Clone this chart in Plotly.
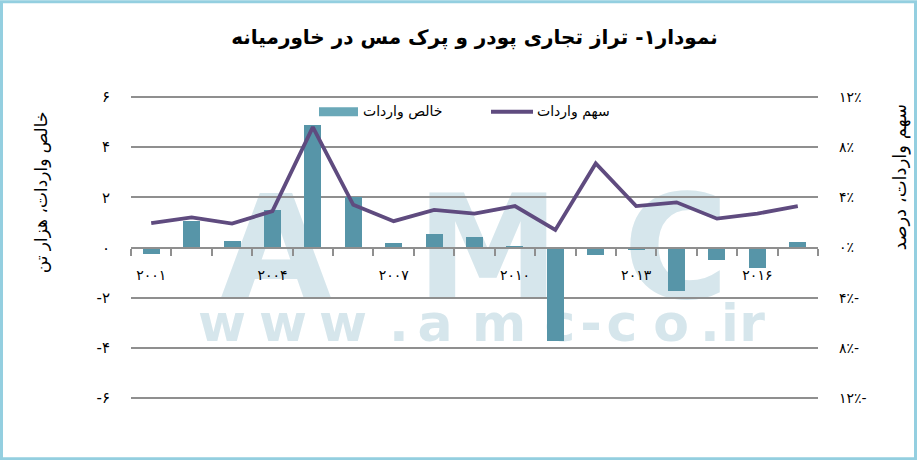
import plotly.graph_objects as go

# ---------------- data ----------------
years = [2001, 2002, 2003, 2004, 2005, 2006, 2007, 2008, 2009,
         2010, 2011, 2012, 2013, 2014, 2015, 2016, 2017]
net_imports = [-0.25, 1.05, 0.27, 1.5, 4.87, 2.0, 0.17, 0.55, 0.43,
               0.03, -3.72, -0.3, -0.1, -1.73, -0.5, -0.8, 0.2]      # thousand tonnes
import_share = [1.95, 2.4, 1.9, 2.9, 9.6, 3.4, 2.1, 3.0, 2.7,
                3.3, 1.4, 6.7, 3.3, 3.6, 2.3, 2.7, 3.3]             # percent

x_tick_vals = [2001, 2004, 2007, 2010, 2013, 2016]
x_tick_text = ["۲۰۰۱", "۲۰۰۴", "۲۰۰۷", "۲۰۱۰", "۲۰۱۳", "۲۰۱۶"]
left_tick_vals = [6, 4, 2, 0, -2, -4, -6]
left_tick_text = ["۶", "۴", "۲", "۰", "-۲", "-۴", "-۶"]
right_tick_vals = [12, 8, 4, 0, -4, -8, -12]
right_tick_text = ["۱۲٪", "۸٪", "۴٪", "۰٪", "۴٪-", "۸٪-", "۱۲٪-"]

title_text = "نمودار۱- تراز تجاری پودر و پرک مس در خاورمیانه"
bar_name = "خالص واردات"
line_name = "سهم واردات"
left_title = "خالص واردات، هزار تن"
right_title = "سهم واردات، درصد"

# ---------------- styling ----------------
W, H = 917, 460
G_TOP, G_BOT = 96.7, 397.7          # pixel rows of the +6 / -6 gridlines
PPU = (G_BOT - G_TOP) / 12.0        # pixels per left-axis unit
EXT = 0.08                          # small range extension so edge gridlines are kept
L, R = 131, 818
T, B = G_TOP - EXT * PPU, G_BOT + EXT * PPU
PW, PH = R - L, B - T

BAR_COLOR = "#5795a8"
LEG_BAR_COLOR = "#6aa8b8"
LINE_COLOR = "#5f4b7f"
GRID = "#8f8f8f"
WM = "#d6e6ec"
FONT = "DejaVu Sans"


def xp(px):
    return (px - L) / PW


def yp(py):
    return (B - py) / PH


fig = go.Figure()
fig.add_trace(go.Bar(x=years, y=net_imports, name=bar_name, width=0.42,
                     marker=dict(color=BAR_COLOR, line=dict(width=0)),
                     yaxis="y", showlegend=False))
fig.add_trace(go.Scatter(x=years, y=import_share, name=line_name, mode="lines",
                         line=dict(color=LINE_COLOR, width=3.8),
                         yaxis="y2", showlegend=False))

shapes = []
annotations = []

# watermark (below traces)
wm_big = [("A", 276), ("M", 488), ("C", 676)]
for ch, cx in wm_big:
    shapes.append(dict(type="rect", xref="paper", yref="paper",
                       x0=xp(cx - 70), x1=xp(cx + 70), y0=yp(288), y1=yp(188),
                       line=dict(width=0), fillcolor="rgba(0,0,0,0)", layer="below",
                       label=dict(text=ch, textposition="middle center",
                                  font=dict(family=FONT, size=144, color=WM, weight="bold"))))
wm_small = [("w", 222), ("w", 283), ("w", 343), (".", 399), ("a", 435), ("m", 499),
            ("c", 560), ("-", 591), ("c", 622), ("o", 671), (".", 710), ("i", 730), ("r", 752)]
for ch, cx in wm_small:
    shapes.append(dict(type="rect", xref="paper", yref="paper",
                       x0=xp(cx - 30), x1=xp(cx + 30), y0=yp(341), y1=yp(296),
                       line=dict(width=0), fillcolor="rgba(0,0,0,0)", layer="below",
                       label=dict(text=ch, textposition="middle center",
                                  font=dict(family=FONT, size=52, color=WM, weight="bold"))))

# custom legend
shapes.append(dict(type="rect", xref="paper", yref="paper",
                   x0=xp(319), x1=xp(358), y0=yp(116), y1=yp(107),
                   line=dict(width=0), fillcolor=LEG_BAR_COLOR))
shapes.append(dict(type="line", xref="paper", yref="paper",
                   x0=xp(491), x1=xp(533), y0=yp(111.5), y1=yp(111.5),
                   line=dict(color=LINE_COLOR, width=4)))
annotations.append(dict(text=bar_name, xref="paper", yref="paper", x=xp(361), y=yp(111),
                        xanchor="left", yanchor="middle", showarrow=False,
                        font=dict(family=FONT, size=14, color="#000")))
annotations.append(dict(text=line_name, xref="paper", yref="paper", x=xp(535), y=yp(111),
                        xanchor="left", yanchor="middle", showarrow=False,
                        font=dict(family=FONT, size=14, color="#000")))

# axis titles
annotations.append(dict(text=left_title, xref="paper", yref="paper", x=xp(41), y=yp(192),
                        xanchor="center", yanchor="middle", textangle=-90, showarrow=False,
                        font=dict(family=FONT, size=17, color="#000")))
annotations.append(dict(text=right_title, xref="paper", yref="paper", x=xp(900), y=yp(177),
                        xanchor="center", yanchor="middle", textangle=-90, showarrow=False,
                        font=dict(family=FONT, size=18, color="#000")))

# outer frame
shapes.append(dict(type="rect", xref="paper", yref="paper",
                   x0=xp(1.5), x1=xp(915.5), y0=yp(458.5), y1=yp(1.5),
                   line=dict(color="#94cfe0", width=3), fillcolor="rgba(0,0,0,0)"))

fig.update_layout(
    width=W, height=H,
    margin=dict(l=L, r=W - R, t=T, b=H - B),
    paper_bgcolor="white", plot_bgcolor="white",
    title=dict(text=title_text, x=0.5, xref="paper", xanchor="center",
               y=1 - 37 / H, yref="container", yanchor="middle",
               font=dict(family=FONT, size=20, color="#000", weight="bold")),
    font=dict(family=FONT, color="#000"),
    xaxis=dict(range=[2000.5, 2017.5], anchor="free", position=0.5,
               showgrid=False, zeroline=False, showline=True, linecolor=GRID, linewidth=2,
               tickmode="array", tickvals=x_tick_vals, ticktext=x_tick_text,
               ticks="", ticklabelstandoff=15,
               tickfont=dict(family=FONT, size=14, color="#000"),
               minor=dict(ticks="outside", ticklen=7, tickwidth=2, tickcolor=GRID,
                          tickmode="linear", tick0=2000.5, dtick=1, showgrid=False)),
    yaxis=dict(range=[-6 - EXT, 6 + EXT], tickmode="array", tickvals=left_tick_vals,
               ticktext=left_tick_text,
               showgrid=True, gridcolor=GRID, gridwidth=2, zeroline=False, showline=False,
               ticks="", ticklabelstandoff=20,
               tickfont=dict(family=FONT, size=15, color="#000")),
    yaxis2=dict(range=[-12 - 2 * EXT, 12 + 2 * EXT], overlaying="y", side="right",
                tickmode="array", tickvals=right_tick_vals, ticktext=right_tick_text,
                showgrid=False, zeroline=False, showline=False,
                ticks="", ticklabelstandoff=20,
                tickfont=dict(family=FONT, size=14, color="#000")),
    shapes=shapes,
    annotations=annotations,
    showlegend=False,
    bargap=0,
)

fig.write_html("out.html", config={"displayModeBar": False},
               post_script="document.body.style.margin='0';document.body.style.padding='0';"
                           "document.body.style.overflow='hidden';")
